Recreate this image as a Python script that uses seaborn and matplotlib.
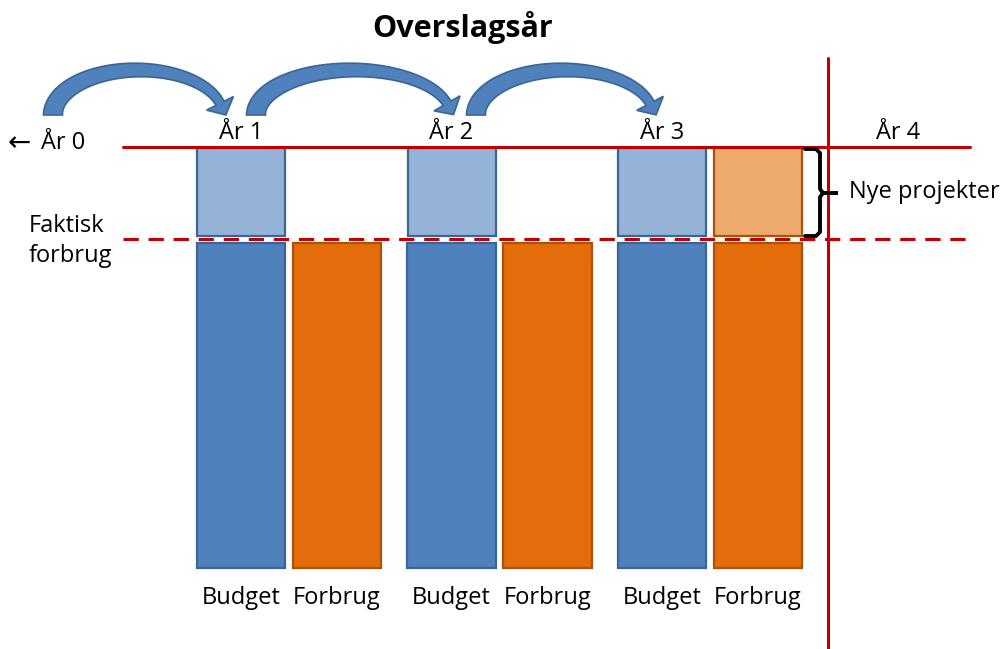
import numpy as np
import pandas as pd
import matplotlib.pyplot as plt
import seaborn as sns
from matplotlib.patches import Polygon

sns.set_theme(style="white")
plt.rcParams['font.family'] = ['Open Sans', 'DejaVu Sans']
plt.rcParams['text.color'] = 'black'

# ----- Data ----- #
years = [1, 2, 3]
year_labels = ["År 1", "År 2", "År 3"]
kinds = ["Budget", "Forbrug"]
budget_base = [100, 100, 100]      # dark blue bars
forbrug = [100, 100, 100]          # orange bars
nye_budget = [27, 27, 27]          # light blue boxes on top
nye_forbrug = [0, 0, 27]           # light orange box (only year 3)
gap = 2.2
budget_level = 129.5
faktisk_level = 101.2

# pixel -> data helpers for decorations (1 year = 210.5 px, 1 unit = 3.25 px)
def px(x):
    return (x - 78.5) / 210.5

def py(y):
    return (568 - y) / 3.25


def curved_arrow(ax, x0, xe):
    # block arrow along an elliptic arc, built in pixel space (y down)
    th0, th1 = np.radians(180), np.radians(15)
    a = (xe - x0) / (-np.cos(th0) + np.cos(th1))
    cx = x0 - a * np.cos(th0)
    cy, b = 115, 45
    th = np.linspace(th0, th1, 100)
    B = np.column_stack([cx + a * np.cos(th), cy - b * np.sin(th)])
    d = np.column_stack([a * np.sin(th), b * np.cos(th)])
    d = d / np.linalg.norm(d, axis=1, keepdims=True)
    n = np.column_stack([-d[:, 1], d[:, 0]])
    t = np.linspace(0, 1, 100)[:, None]
    w = 9.5 - 5.0 * t
    left = B + n * w
    right = B - n * w
    c, de, ne = B[-1], d[-1], n[-1]
    head = np.array([c + ne * 15, c + de * 13, c - ne * 15])
    pts = np.vstack([left, head, right[::-1]])
    pts = np.column_stack([px(pts[:, 0]), py(pts[:, 1])])
    ax.add_patch(Polygon(pts, closed=True, fc="#4F81BD", ec="#3A6596", lw=1.2,
                         zorder=3))


offset = 0.228
rows = []
for i, yr in enumerate(years):
    rows.append({"pos": yr - offset, "value": budget_base[i], "kind": "Budget"})
    rows.append({"pos": yr + offset, "value": forbrug[i], "kind": "Forbrug"})
df = pd.DataFrame(rows)

fig = plt.figure(figsize=(10.08, 6.49), dpi=100)
ax = fig.add_axes([0, 0, 1, 1])

colors = {"Budget": "#4F81BD", "Forbrug": "#E46C0A"}
sns.barplot(data=df, x="pos", y="value", hue="kind", palette=colors,
            native_scale=True, dodge=False, width=0.917, saturation=1,
            legend=False, ax=ax)
for p in ax.patches:
    fc = p.get_facecolor()
    p.set_edgecolor("#3A6596" if fc[2] > 0.5 else "#A9520C")
    p.set_linewidth(1.6)

# stacked "new project" boxes
xb = [y - offset for y in years]
xf = [y + offset for y in years]
ax.bar(xb, nye_budget, bottom=[b + gap for b in budget_base], width=0.418,
       color="#95B3D7", edgecolor="#3A6596", linewidth=1.6)
for x, h, b in zip(xf, nye_forbrug, forbrug):
    if h > 0:
        ax.bar(x, h, bottom=b + gap, width=0.418, color="#EEA96D",
               edgecolor="#A9520C", linewidth=1.6)

# red reference lines
red = "#C00000"
ax.plot([px(123), px(970)], [budget_level, budget_level], color=red, lw=2.2)
ax.plot([px(123), px(970)], [faktisk_level, faktisk_level], color=red, lw=2.2,
        ls=(0, (5, 3.2)))
ax.plot([px(828), px(828)], [py(58), py(649)], color=red, lw=2.2)

# brace for "Nye projekter"
bx = [px(805), px(816), px(820), px(820), px(823), px(820), px(820), px(816), px(805)]
by = [py(149), py(149), py(153), py(189), py(193), py(197), py(232), py(236), py(236)]
ax.plot(bx, by, color="black", lw=2.8, solid_joinstyle="round", zorder=4)
ax.plot([px(821), px(838)], [py(193), py(193)], color="black", lw=2.8,
        solid_capstyle="butt", zorder=4)

# curved arrows between years
for x0, xe in [(53, 220), (256, 447), (476, 650)]:
    curved_arrow(ax, x0, xe)

# texts
fs = 17
ax.text(px(463), py(28), "Overslagsår", ha="center", va="center",
        fontsize=22, fontweight="bold")
ax.text(px(8), py(143), "←", ha="left", va="center", fontsize=20,
        family=["DejaVu Sans"])
ax.text(px(41), py(143), "År 0", ha="left", va="center", fontsize=fs)
for yr, lab in zip(years, year_labels):
    ax.text(yr - offset, py(133), lab, ha="center", va="center", fontsize=fs)
ax.text(px(898), py(133), "År 4", ha="center", va="center", fontsize=fs)
ax.text(px(29), py(226), "Faktisk", ha="left", va="center", fontsize=fs)
ax.text(px(29), py(256), "forbrug", ha="left", va="center", fontsize=fs)
ax.text(px(849), py(192), "Nye projekter", ha="left", va="center", fontsize=fs)
for yr in years:
    for k, x in zip(kinds, [yr - offset, yr + offset]):
        ax.text(x, py(598), k, ha="center", va="center", fontsize=fs)

ax.set_xlim(px(0), px(1008))
ax.set_ylim(py(649), py(0))
ax.axis("off")

plt.savefig("out.png", dpi=100)
